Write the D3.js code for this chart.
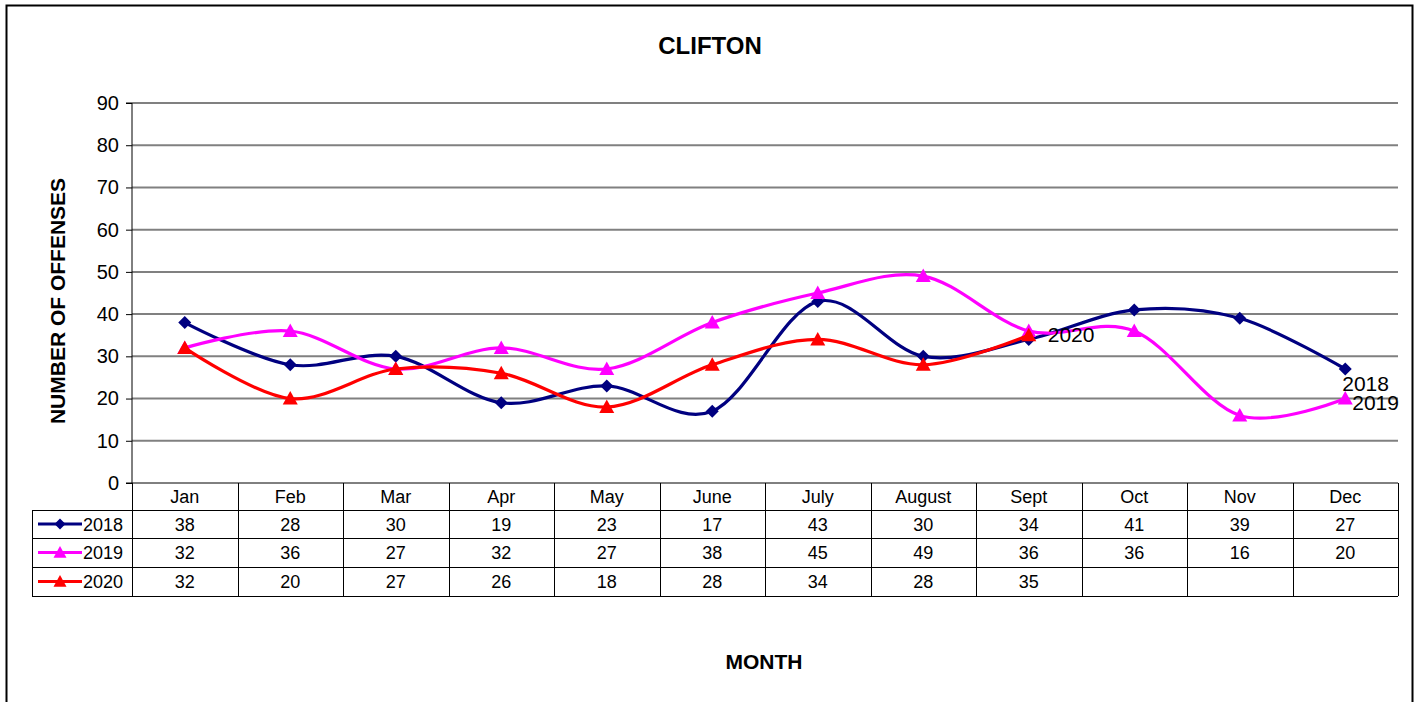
<!DOCTYPE html>
<html>
<head>
<meta charset="utf-8">
<script src="https://cdn.jsdelivr.net/npm/d3@7/dist/d3.min.js"></script>
<style>
body{margin:0;background:#fff;}
svg text{font-family:"Liberation Sans",Arial,sans-serif;fill:#000;}
</style>
</head>
<body>
<svg id="chart" width="1416" height="702"></svg>
<script>
// data
const months=["Jan","Feb","Mar","Apr","May","June","July","August","Sept","Oct","Nov","Dec"];
const years=["2018","2019","2020"];
const v2018=[38,28,30,19,23,17,43,30,34,41,39,27];
const v2019=[32,36,27,32,27,38,45,49,36,36,16,20];
const v2020=[32,20,27,26,18,28,34,28,35];
const yTicks=[0,10,20,30,40,50,60,70,80,90];

const series=[
  {name:years[0],values:v2018,color:"#000080",marker:"diamond",labelDx:-3,labelDy:22},
  {name:years[1],values:v2019,color:"#FF00FF",marker:"triangle",labelDx:7,labelDy:11},
  {name:years[2],values:v2020,color:"#FF0000",marker:"triangle",labelDx:19,labelDy:7}
];

const svg=d3.select("#chart");
const plotLeft=132,plotRight=1398,plotTop=103,plotBottom=483;
const rowH=[510,538,567,596];

// outer frame
svg.append("rect").attr("x",6.5).attr("y",5.5).attr("width",1406).attr("height",720)
  .attr("fill","none").attr("stroke","#000").attr("stroke-width",2);

let x=d3.scaleBand().domain(months).range([plotLeft,plotRight]);
let y=d3.scaleLinear().domain([0,90]).range([plotBottom,plotTop]);
let cx=function(i){return x(months[i])+x.bandwidth()/2;};

// grid
svg.append("g").selectAll("line")
  .data(yTicks.filter(function(d){return d>0;}))
  .enter().append("line")
  .attr("x1",plotLeft).attr("x2",plotRight)
  .attr("y1",function(d){return y(d);}).attr("y2",function(d){return y(d);})
  .attr("stroke","#808080").attr("stroke-width",2);

// y axis
let yAxis=d3.axisLeft(y).tickValues(yTicks).tickSize(6).tickPadding(7);
let gy=svg.append("g").attr("transform","translate("+plotLeft+",0)").call(yAxis);
gy.select(".domain").attr("stroke","#000").attr("d","M-6,"+plotTop+"H0V"+plotBottom);
gy.selectAll(".tick line").attr("stroke","#000");
gy.selectAll(".tick text").attr("font-size",20).attr("font-family","Liberation Sans, Arial, sans-serif").attr("fill","#000");

// x baseline
svg.append("line").attr("x1",plotLeft-6).attr("x2",plotRight).attr("y1",plotBottom).attr("y2",plotBottom)
  .attr("stroke","#000").attr("stroke-width",1);

// data table
let tbl=svg.append("g").attr("stroke","#000").attr("stroke-width",1).attr("fill","none");
for(let r=0;r<rowH.length;r++){
  tbl.append("line").attr("x1",32).attr("x2",plotRight).attr("y1",rowH[r]+0.5).attr("y2",rowH[r]+0.5);
}
tbl.append("line").attr("x1",32.5).attr("x2",32.5).attr("y1",rowH[0]).attr("y2",rowH[3]);
tbl.selectAll("line.v").data(months.concat(["end"])).enter().append("line")
  .attr("x1",function(d,i){return Math.round(plotLeft+i*x.bandwidth())+0.5;})
  .attr("x2",function(d,i){return Math.round(plotLeft+i*x.bandwidth())+0.5;})
  .attr("y1",plotBottom).attr("y2",rowH[3]);

svg.append("g").selectAll("text").data(months).enter().append("text")
  .attr("x",function(d,i){return cx(i);}).attr("y",plotBottom+20)
  .attr("text-anchor","middle").attr("font-size",18).text(function(d){return d;});

let line=d3.line()
  .x(function(d,i){return cx(i);})
  .y(function(d){return y(d);})
  .curve(d3.curveCardinal.tension(0));

function drawMarker(g,type,px,py,color,big){
  if(type=="diamond"){
    let s=big?6.5:5.5;
    g.append("path").attr("d","M"+px+","+(py-s)+"L"+(px+s)+","+py+"L"+px+","+(py+s)+"L"+(px-s)+","+py+"Z")
      .attr("fill",color);
  } else {
    let s=big?7.5:6.5;
    g.append("path").attr("d","M"+px+","+(py-s)+"L"+(px+s)+","+(py+s*0.8)+"L"+(px-s)+","+(py+s*0.8)+"Z")
      .attr("fill",color);
  }
}

series.forEach(function(s,k){
  let g=svg.append("g");
  g.append("path").datum(s.values).attr("d",line)
    .attr("fill","none").attr("stroke",s.color).attr("stroke-width",3.2);
  s.values.forEach(function(v,i){drawMarker(g,s.marker,cx(i),y(v),s.color,true);});
  let last=s.values.length-1;
  g.append("text").attr("x",cx(last)+s.labelDx).attr("y",y(s.values[last])+s.labelDy)
    .attr("font-size",21).text(s.name);

  // table row
  let ty=(rowH[k]+rowH[k+1])/2+6;
  g.append("line").attr("x1",38).attr("x2",82).attr("y1",ty-6).attr("y2",ty-6)
    .attr("stroke",s.color).attr("stroke-width",3.2);
  drawMarker(g,s.marker,60,ty-6,s.color,false);
  g.append("text").attr("x",83).attr("y",ty+0.5).attr("font-size",18).text(s.name);
  g.selectAll("text.val").data(s.values).enter().append("text")
    .attr("x",function(d,i){return cx(i);}).attr("y",ty+0.5)
    .attr("text-anchor","middle").attr("font-size",18).text(function(d){return d;});
});

// titles
svg.append("text").attr("x",710).attr("y",54).attr("text-anchor","middle")
  .attr("font-size",24).attr("font-weight","bold").text("CLIFTON");
svg.append("text").attr("transform","translate(65,301) rotate(-90)").attr("text-anchor","middle")
  .attr("font-size",21).attr("font-weight","bold").text("NUMBER OF OFFENSES");
svg.append("text").attr("x",764).attr("y",669).attr("text-anchor","middle")
  .attr("font-size",21).attr("font-weight","bold").text("MONTH");
</script>
</body>
</html>
